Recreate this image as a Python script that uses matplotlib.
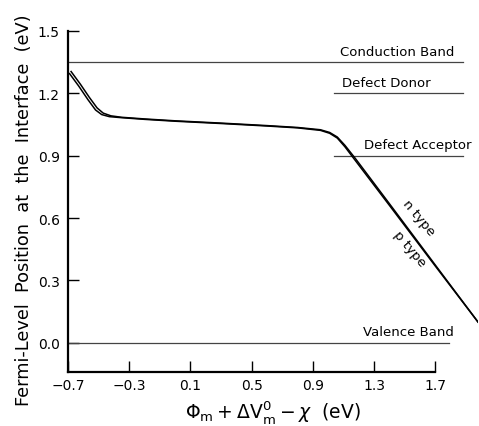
import matplotlib.pyplot as plt

# Fermi level vs. metal work function (n and p type curves)
x_n = [-0.68, -0.62, -0.56, -0.51, -0.47, -0.42, -0.35, -0.2, 0.0, 0.3, 0.6, 0.8, 0.95, 1.01, 1.06, 1.11, 1.18, 1.4, 1.7, 1.98]
y_n = [1.305, 1.245, 1.18, 1.13, 1.105, 1.092, 1.085, 1.077, 1.068, 1.057, 1.045, 1.036, 1.025, 1.012, 0.99, 0.95, 0.885, 0.67, 0.375, 0.10]
x_p = [-0.69, -0.63, -0.57, -0.52, -0.48, -0.43, -0.35, -0.2, 0.0, 0.3, 0.6, 0.8, 0.95, 1.01, 1.06, 1.11, 1.18, 1.4, 1.7, 1.98]
y_p = [1.295, 1.235, 1.17, 1.12, 1.098, 1.088, 1.083, 1.075, 1.066, 1.055, 1.043, 1.034, 1.022, 1.008, 0.985, 0.943, 0.875, 0.662, 0.37, 0.10]

# band / defect levels: (name, energy, x start, x end)
level_names = ["Conduction Band", "Defect Donor", "Defect Acceptor", "Valence Band"]
level_energy = [1.35, 1.20, 0.90, 0.0]
level_start = [-0.7, 1.04, 1.04, -0.7]
level_end = [1.88, 1.88, 1.88, 1.79]
label_pos = [(1.075, 1.37), (1.09, 1.22), (1.235, 0.925), (1.225, 0.022)]

xticks = [-0.7, -0.3, 0.1, 0.5, 0.9, 1.3, 1.7]
yticks = [0.0, 0.3, 0.6, 0.9, 1.2, 1.5]

fig = plt.figure(figsize=(4.79, 4.27), dpi=100)
ax = fig.add_axes([0.142, 0.1265, 0.856, 0.7986])

for name, e, x0, x1, (tx, ty) in zip(level_names, level_energy, level_start, level_end, label_pos):
    ax.plot([x0, x1], [e, e], color="#444444", lw=0.9)
    ax.text(tx, ty, name, fontsize=9.5, va="bottom", ha="left")

ax.plot(x_n, y_n, color="black", lw=1.1)
ax.plot(x_p, y_p, color="black", lw=1.1)

ax.text(1.59, 0.605, "n type", fontsize=9.5, rotation=-50, ha="center", va="center")
ax.text(1.535, 0.455, "p type", fontsize=9.5, rotation=-50, ha="center", va="center")

ax.set_xlim(-0.7, 1.98)
ax.set_ylim(-0.14, 1.5)
ax.spines["top"].set_visible(False)
ax.spines["right"].set_visible(False)
ax.spines["left"].set_linewidth(1.6)
ax.spines["bottom"].set_linewidth(1.6)
ax.spines["left"].set_bounds(-0.14, 1.5)
ax.spines["bottom"].set_bounds(-0.7, 1.7)

ax.set_xticks(xticks)
ax.set_yticks(yticks)
ax.set_xticklabels([f"{v:.1f}".replace("-", "\u2212") for v in xticks])
ax.set_yticklabels([f"{v:.1f}" for v in yticks])
ax.tick_params(direction="in", length=8, width=1, labelsize=10, colors="black", pad=6)
ax.tick_params(axis="x", pad=4)

ax.set_xlabel(r"$\Phi_\mathrm{m} + \Delta \mathrm{V}_\mathrm{m}^\mathrm{0} - \chi$  (eV)", fontsize=13.5)
ax.xaxis.set_label_coords(0.5, -0.075, transform=ax.transAxes)
ax.xaxis.label.set_va("top")
ax.set_ylabel("Fermi-Level  Position  at  the  Interface  (eV)", fontsize=12.8)
ax.yaxis.set_label_coords(-0.085, 0.478)

fig.savefig("out.png", dpi=100)
